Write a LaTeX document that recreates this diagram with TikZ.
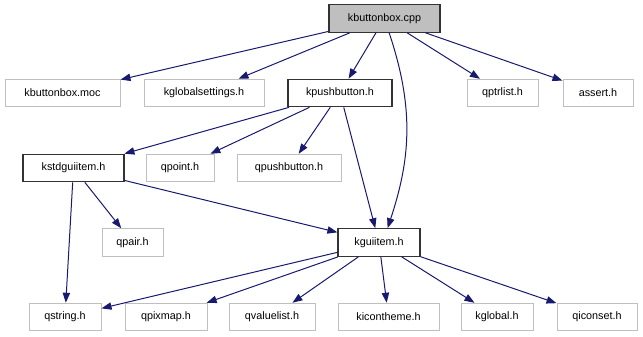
\documentclass[tikz,border=0pt]{standalone}
\usepackage{fontspec}
\setmainfont{Liberation Sans}
\usetikzlibrary{arrows.meta}
\definecolor{edgeblue}{HTML}{191970}
\definecolor{leafgray}{HTML}{BFBFBF}

\begin{document}
\begin{tikzpicture}[
x=0.75pt, y=-0.75pt,
file/.style={rectangle, draw=leafgray, line width=0.75pt, inner sep=0pt, minimum height=20.6pt, font=\fontsize{8.1}{9.5}\selectfont},
docfile/.style={file, draw=black!80, line width=0.9pt},
mainfile/.style={docfile, fill=leafgray},
incl/.style={draw=edgeblue, line width=0.75pt, -{Triangle[length=7.5pt, width=5.5pt]}}
]
\useasboundingbox (0,0) rectangle (643,336);

\node (cpp) [mainfile, minimum width=83.25pt] at (384.5,18.5) {kbuttonbox.cpp};

\node (moc) [file, minimum width=86.25pt] at (62.5,93) {kbuttonbox.moc};
\node (kglobalsettings) [file, minimum width=90pt] at (204,93) {kglobalsettings.h};
\node (kpushbutton) [docfile, minimum width=78pt] at (340,93) {kpushbutton.h};
\node (qptrlist) [file, minimum width=53.25pt] at (502.5,93) {qptrlist.h};
\node (assert) [file, minimum width=52.5pt] at (598,93) {assert.h};

\node (kstdguiitem) [docfile, minimum width=75.75pt] at (73.5,168) {kstdguiitem.h};
\node (qpoint) [file, minimum width=51pt] at (180,168) {qpoint.h};
\node (qpushbutton) [file, minimum width=78pt] at (289,168) {qpushbutton.h};

\node (qpair) [file, minimum width=45.75pt] at (132.5,242.5) {qpair.h};
\node (kguiitem) [docfile, minimum width=61.5pt] at (379,242.5) {kguiitem.h};

\node (qstring) [file, minimum width=54pt] at (65,317) {qstring.h};
\node (qpixmap) [file, minimum width=61.5pt] at (166,317) {qpixmap.h};
\node (qvaluelist) [file, minimum width=64.5pt] at (272,317) {qvaluelist.h};
\node (kicontheme) [file, minimum width=75.75pt] at (388.5,317) {kicontheme.h};
\node (kglobal) [file, minimum width=54pt] at (497,317) {kglobal.h};
\node (qiconset) [file, minimum width=60pt] at (597,317) {qiconset.h};

\foreach \dst in {moc, kglobalsettings, kpushbutton, qptrlist, assert}
  \draw [incl] (cpp) -- (\dst);
\draw [incl] (cpp.-72) .. controls (415,110) and (410,160) .. (kguiitem.59);

\foreach \dst in {kstdguiitem, qpoint, qpushbutton, kguiitem}
  \draw [incl] (kpushbutton) -- (\dst);

\foreach \dst in {qstring, qpair, kguiitem}
  \draw [incl] (kstdguiitem) -- (\dst);

\foreach \dst in {qstring, qpixmap, qvaluelist, kicontheme, kglobal, qiconset}
  \draw [incl] (kguiitem) -- (\dst);

\end{tikzpicture}
\end{document}
